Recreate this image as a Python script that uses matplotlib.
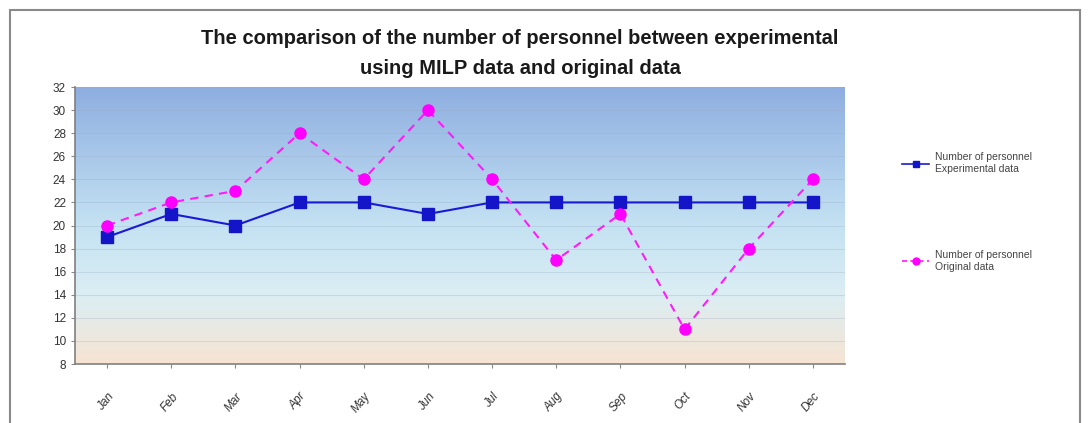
import matplotlib
matplotlib.use("Agg")
import matplotlib.pyplot as plt
import numpy as np
from matplotlib.colors import LinearSegmentedColormap
from matplotlib.patches import Rectangle
from matplotlib.lines import Line2D

months = ["Jan", "Feb", "Mar", "Apr", "May", "Jun", "Jul", "Aug", "Sep", "Oct", "Nov", "Dec"]
experimental = [19, 21, 20, 22, 22, 21, 22, 22, 22, 22, 22, 22]
original = [20, 22, 23, 28, 24, 30, 24, 17, 21, 11, 18, 24]
yticks = list(range(8, 33, 2))

narrow = ["Liberation Sans Narrow", "Liberation Sans", "DejaVu Sans"]

fig = plt.figure(figsize=(10.9, 4.23), dpi=100)
fig.patch.set_facecolor("white")
fig.add_artist(Rectangle((10/1090, -0.05), 1070/1090, 1.05 - 10/423, transform=fig.transFigure,
                         fill=False, edgecolor="#8a8a8a", linewidth=1.5))

ax = fig.add_axes([75/1090, (423-364)/423, (845-75)/1090, (364-87)/423])

cmap = LinearSegmentedColormap.from_list("bg", ["#f7e4d2", "#dbeef4", "#c4e2f2", "#a9c8ea", "#8eaee0"])
grad = np.linspace(0, 1, 256).reshape(-1, 1)
ax.imshow(grad, aspect="auto", cmap=cmap, origin="lower", extent=[0, 1, 0, 1],
          transform=ax.transAxes, zorder=0)

x = np.arange(len(months))
ax.set_xlim(-0.5, len(months) - 0.5)
ax.set_ylim(8, 32)
for yv in yticks:
    ax.axhline(yv, color="#9aa8c0", linewidth=0.6, alpha=0.35, zorder=1)

ax.plot(x, experimental, color="#1a1ad6", linewidth=1.5, marker="s", markersize=8,
        markerfacecolor="#1414c8", markeredgecolor="#1414c8", zorder=3)
ax.plot(x, original, color="#ff1aff", linewidth=1.5, linestyle=(0, (4, 3)), marker="o", markersize=8,
        markerfacecolor="#ff00ff", markeredgecolor="#ff00ff", zorder=4)

ax.set_yticks(yticks)
ax.set_yticklabels([str(v) for v in yticks], family=narrow, fontsize=8.5, color="#333333")
ax.set_xticks(x)
ax.set_xticklabels(months, rotation=50, ha="right", rotation_mode="anchor",
                   family=narrow, fontsize=8.5, style="italic", color="#333333")
ax.tick_params(axis="both", length=3, color="#888888")
ax.tick_params(axis="x", pad=16)
for s in ["top", "right"]:
    ax.spines[s].set_visible(False)
for s in ["left", "bottom"]:
    ax.spines[s].set_color("#808080")
    ax.spines[s].set_linewidth(1.2)

fig.text(520/1090, 1 - 38/423, "The comparison of the number of personnel between experimental",
         ha="center", va="center", fontsize=14.5, fontweight="bold", family=narrow, color="#1a1a1a")
fig.text(520/1090, 1 - 68/423, "using MILP data and original data",
         ha="center", va="center", fontsize=14.5, fontweight="bold", family=narrow, color="#1a1a1a")

h1 = Line2D([0], [0], color="#1a1ad6", linewidth=1.2, marker="s", markersize=5,
            markerfacecolor="#1414c8", markeredgecolor="#1414c8")
h2 = Line2D([0], [0], color="#ff1aff", linewidth=1.2, linestyle=(0, (3, 2)), marker="o", markersize=5,
            markerfacecolor="#ff00ff", markeredgecolor="#ff00ff")
fig.legend([h1, h2], ["Number of personnel\nExperimental data", "Number of personnel\nOriginal data"],
           loc="upper left", bbox_to_anchor=(893/1090, 1 - 143/423), frameon=False,
           prop={"family": narrow, "size": 7.5}, labelcolor="#444444", handlelength=2.6,
           labelspacing=7.3, handletextpad=0.5)

fig.savefig("out.png", dpi=100)
